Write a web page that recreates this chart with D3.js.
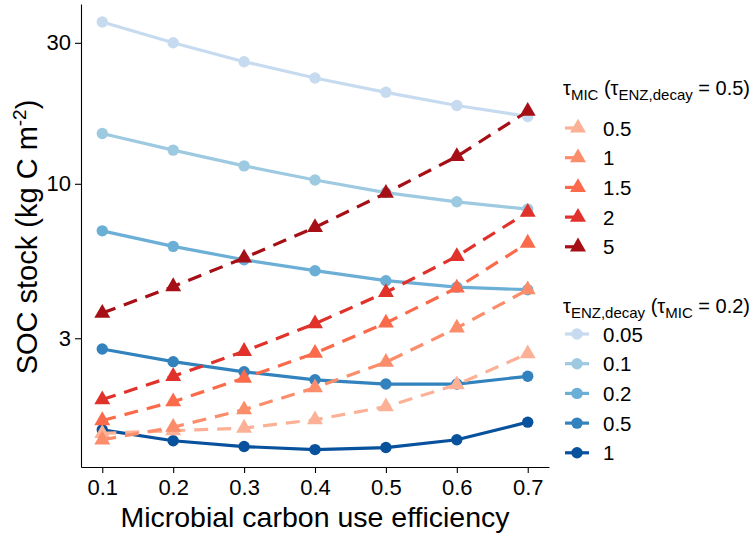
<!DOCTYPE html>
<html>
<head>
<meta charset="utf-8">
<script src="https://cdn.jsdelivr.net/npm/d3@7"></script>
<style>
body { margin: 0; background: #fff; }
svg text { font-family: "Liberation Sans", Arial, sans-serif; fill: #000; }
.axis path, .axis line { stroke: #000; stroke-width: 1.1; }
</style>
</head>
<body>
<svg></svg>
<script>
var cue = [0.1, 0.2, 0.3, 0.4, 0.5, 0.6, 0.7];
var yTicks = [3, 10, 30];

// tau_MIC series (tau_ENZ,decay = 0.5), triangles, dashed
var micNames = ["0.5", "1", "1.5", "2", "5"];
var micColors = ["#fcb196", "#fc8d6b", "#fb6a4a", "#e0312b", "#a50f15"];
var micVals = [
	[1.43, 1.46, 1.49, 1.59, 1.76, 2.09, 2.66],
	[1.36, 1.50, 1.72, 2.04, 2.49, 3.25, 4.38],
	[1.58, 1.83, 2.20, 2.67, 3.38, 4.44, 6.30],
	[1.86, 2.23, 2.71, 3.36, 4.29, 5.68, 8.02],
	[3.65, 4.49, 5.61, 7.12, 9.30, 12.37, 17.6]
];

// tau_ENZ,decay series (tau_MIC = 0.2), circles, solid
var enzNames = ["0.05", "0.1", "0.2", "0.5", "1"];
var enzColors = ["#c6dbef", "#9ecae1", "#6baed6", "#3182bd", "#08519c"];
var enzVals = [
	[35.3, 30.0, 25.9, 22.8, 20.4, 18.4, 16.9],
	[14.8, 13.0, 11.5, 10.3, 9.34, 8.69, 8.21],
	[6.93, 6.14, 5.53, 5.08, 4.70, 4.47, 4.38],
	[2.76, 2.50, 2.31, 2.17, 2.10, 2.10, 2.23],
	[1.47, 1.35, 1.29, 1.26, 1.28, 1.36, 1.56]
];

var width = 752, height = 534;
var svg = d3.select("svg").attr("width", width).attr("height", height);

var x = d3.scaleLinear().domain([0.07, 0.73]).range([81, 549]);
var y = d3.scaleLog().domain([1.1, 40.6]).range([467, 4]);

// axes
svg.append("g")
	.attr("class", "axis")
	.attr("transform", "translate(0,467)")
	.call(d3.axisBottom(x).tickValues(cue).tickSize(6).tickPadding(6).tickSizeOuter(0).tickFormat(d3.format(".1f")))
	.call(function(g) { g.selectAll("text").style("font-size", "22px").attr("fill", "#222"); });

svg.append("g")
	.attr("class", "axis")
	.attr("transform", "translate(81,0)")
	.call(d3.axisLeft(y).tickValues(yTicks).tickSize(6).tickPadding(4).tickSizeOuter(0).tickFormat(d3.format("d")))
	.call(function(g) { g.selectAll("text").style("font-size", "22px").attr("fill", "#222"); });

svg.append("text")
	.attr("x", 315).attr("y", 527)
	.attr("text-anchor", "middle")
	.style("font-size", "28.5px")
	.text("Microbial carbon use efficiency");

var yl = svg.append("text")
	.attr("transform", "translate(37,237) rotate(-90)")
	.attr("text-anchor", "middle")
	.style("font-size", "29px");
yl.append("tspan").text("SOC stock (kg C m");
yl.append("tspan").attr("dy", -11).style("font-size", "19px").text("-2");
yl.append("tspan").attr("dy", 11).text(")");

var line = d3.line()
	.x(function(d, i) { return x(cue[i]); })
	.y(function(d) { return y(d); });

var tri = d3.symbol().type(d3.symbolTriangle).size(110);

// blue lines + circles
enzVals.forEach(function(vals, k) {
	svg.append("path")
		.attr("d", line(vals))
		.attr("fill", "none")
		.attr("stroke", enzColors[k])
		.attr("stroke-width", 3.2);
	svg.selectAll(".c" + k).data(vals).enter().append("circle")
		.attr("cx", function(d, i) { return x(cue[i]); })
		.attr("cy", function(d) { return y(d); })
		.attr("r", 5.7)
		.attr("fill", enzColors[k]);
});

// red dashed lines + triangles
micVals.forEach(function(vals, k) {
	svg.append("path")
		.attr("d", line(vals))
		.attr("fill", "none")
		.attr("stroke", micColors[k])
		.attr("stroke-width", 3.2)
		.attr("stroke-dasharray", "14,9");
	svg.selectAll(".t" + k).data(vals).enter().append("path")
		.attr("d", tri)
		.attr("transform", function(d, i) { return "translate(" + x(cue[i]) + "," + y(d) + ")"; })
		.attr("fill", micColors[k]);
});

// legends
function legendTitle(yy, parts) {
	var t = svg.append("text").attr("x", 563).attr("y", yy).style("font-size", "20px").attr("fill", "#222");
	parts.forEach(function(p) {
		var s = t.append("tspan").text(p[0]);
		if (p[1] == "sub") s.attr("dy", 5).style("font-size", "15px");
		if (p[1] == "up") s.attr("dy", -5);
	});
}

legendTitle(95, [["τ"], ["MIC", "sub"], [" (τ", "up"], ["ENZ,decay", "sub"], [" = 0.5)", "up"]]);
legendTitle(313, [["τ"], ["ENZ,decay", "sub"], [" (τ", "up"], ["MIC", "sub"], [" = 0.2)", "up"]]);

micNames.forEach(function(n, k) {
	var yy = 128 + k * 29.7;
	svg.append("line")
		.attr("x1", 565).attr("x2", 588).attr("y1", yy).attr("y2", yy)
		.attr("stroke", micColors[k]).attr("stroke-width", 3.2)
		.attr("stroke-dasharray", "10,20");
	svg.append("path").attr("d", tri)
		.attr("transform", "translate(578," + yy + ")")
		.attr("fill", micColors[k]);
	svg.append("text").attr("x", 603).attr("y", yy + 7.5)
		.style("font-size", "20.5px").attr("fill", "#222").text(n);
});

enzNames.forEach(function(n, k) {
	var yy = 334 + k * 29.7;
	svg.append("line")
		.attr("x1", 565).attr("x2", 589).attr("y1", yy).attr("y2", yy)
		.attr("stroke", enzColors[k]).attr("stroke-width", 3.2);
	svg.append("circle").attr("cx", 577).attr("cy", yy).attr("r", 5.7)
		.attr("fill", enzColors[k]);
	svg.append("text").attr("x", 603).attr("y", yy + 7.5)
		.style("font-size", "20.5px").attr("fill", "#222").text(n);
});
</script>
</body>
</html>
